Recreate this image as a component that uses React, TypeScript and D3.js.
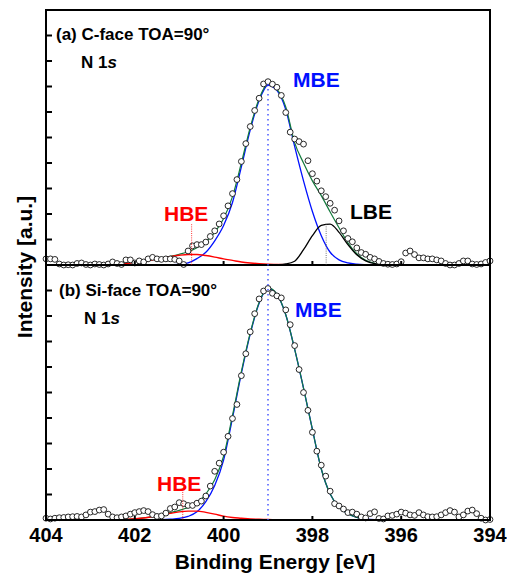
import React from 'react';
import * as d3 from 'd3';

// energy grids: measured points every 0.1 eV, fit curves every 0.2 eV
const dataEnergies = d3.range(0, 101).map(i => +(404 - i * 0.1).toFixed(2));
const fitEnergies = d3.range(0, 51).map(i => +(404 - i * 0.2).toFixed(2));
const xTicks = [404, 402, 400, 398, 396, 394];

// (a) C-face, N 1s intensities (arb. units, 10 = panel top)
const cFaceData = [
  0.24, 0.24, 0.22, 0.04, 0.0, 0.01, 0.0, 0.06, 0.08, 0.02,
  0.0, 0.04, 0.02, 0.0, 0.04, 0.12, 0.06, 0.02, 0.2, 0.2,
  0.08, 0.16, 0.12, 0.24, 0.3, 0.24, 0.22, 0.24, 0.24, 0.22,
  0.16, 0.02, 0.55, 0.75, 0.8, 0.8, 0.9, 1.12, 1.34, 1.61,
  1.93, 2.32, 2.8, 3.35, 4.06, 4.76, 5.43, 6.06, 6.54, 7.1,
  7.19, 7.09, 6.97, 6.65, 5.98, 5.21, 4.94, 4.84, 4.74, 4.09,
  3.58, 3.29, 2.91, 2.68, 2.42, 2.15, 1.73, 1.34, 1.04, 0.91,
  0.67, 0.49, 0.42, 0.3, 0.24, 0.14, 0.06, 0.03, 0.02, 0.04,
  0.13, 0.47, 0.55, 0.41, 0.28, 0.28, 0.24, 0.24, 0.2, 0.16,
  0.06, 0.0, 0.0, 0.06, 0.16, 0.16, 0.04, 0.02, 0.04, 0.1,
  0.16,
];
const cFaceSum = [
  0, 0, 0, 0, 0, 0, 0, 0.02, 0.05, 0.08,
  0.12, 0.16, 0.21, 0.27, 0.34, 0.42, 0.52, 0.68, 0.9, 1.28,
  1.82, 2.68, 4.0, 5.4, 6.52, 7.1, 6.9, 6.2, 4.8, 4.0,
  3.3, 2.72, 2.08, 1.46, 0.87, 0.44, 0.19, 0.07, 0.02, 0,
  0, 0, 0, 0, 0, 0, 0, 0, 0, 0, 0,
];
const cFaceMBE = [
  null, null, null, null, null, null, null, null, null, null,
  0, 0, 0, 0, 0.01, 0.02, 0.08, 0.25, 0.5, 0.95,
  1.55, 2.45, 3.85, 5.3, 6.45, 7.05, 6.85, 6.1, 4.65, 3.3,
  2.1, 1.15, 0.5, 0.2, 0.08, 0.03, 0.01, 0, 0, null,
  null, null, null, null, null, null, null, null, null, null, null,
];
const cFaceHBE = [
  null, null, null, null, null, null, 0, 0, 0.03, 0.06,
  0.1, 0.14, 0.2, 0.27, 0.33, 0.38, 0.41, 0.41, 0.37, 0.31,
  0.24, 0.18, 0.12, 0.08, 0.05, 0.03, 0.02, 0.01, 0, 0,
  0, 0, 0, 0, 0, 0, 0, 0, 0, null,
  null, null, null, null, null, null, null, null, null, null, null,
];
const cFaceLBE = [
  null, null, null, null, null, null, null, null, null, null,
  null, null, null, null, null, null, null, null, null, null,
  null, null, null, 0, 0, 0, 0.01, 0.04, 0.15, 0.6,
  1.15, 1.55, 1.6, 1.28, 0.8, 0.4, 0.16, 0.05, 0.01, null,
  null, null, null, null, null, null, null, null, null, null, null,
];

// (b) Si-face
const siFaceData = [
  0.07, 0.04, 0.07, 0.09, 0.1, 0.12, 0.13, 0.14, 0.12, 0.2,
  0.31, 0.33, 0.39, 0.41, 0.23, 0.12, 0.09, 0.12, 0.16, 0.23,
  0.29, 0.33, 0.37, 0.33, 0.21, 0.14, 0.16, 0.27, 0.45, 0.51,
  0.68, 0.64, 0.57, 0.57, 0.66, 0.74, 0.94, 1.33, 1.91, 2.23,
  2.66, 3.28, 3.98, 4.53, 5.66, 6.52, 7.38, 8.09, 8.67, 8.98,
  9.08, 8.89, 8.79, 8.71, 8.24, 7.66, 6.84, 5.9, 5.0, 4.3,
  3.44, 2.7, 2.15, 1.72, 1.13, 0.64, 0.55, 0.43, 0.29, 0.31,
  0.23, 0.12, 0.08, 0.25, 0.32, 0.06, 0.04, 0.16, 0.18, 0.23,
  0.31, 0.27, 0.2, 0.18, 0.29, 0.2, 0.13, 0.12, 0.13, 0.2,
  0.29, 0.37, 0.31, 0.12, 0.2, 0.35, 0.39, 0.25, 0.07, 0.0,
  0.02,
];
const siFaceSum = [
  0, 0, 0, 0, 0, 0, 0, 0, 0, 0.02,
  0.05, 0.08, 0.13, 0.2, 0.29, 0.38, 0.49, 0.67, 1.02, 1.58,
  2.5, 4.1, 5.82, 7.34, 8.53, 9.1, 8.86, 8.05, 6.7, 5.17,
  3.55, 2.0, 1.02, 0.5, 0.25, 0.1, 0.04, 0.01, 0, 0,
  0, 0, 0, 0, 0, 0, 0, 0, 0, 0, 0,
];
const siFaceMBE = [
  null, null, null, null, null, null, null, null, 0, 0,
  0, 0, 0, 0.01, 0.03, 0.06, 0.14, 0.32, 0.72, 1.35,
  2.35, 4.0, 5.75, 7.3, 8.5, 9.08, 8.85, 8.05, 6.7, 5.17,
  3.55, 2.0, 1.02, 0.5, 0.25, 0.1, 0.04, 0.01, 0, null,
  null, null, null, null, null, null, null, null, null, null, null,
];
const siFaceHBE = [
  null, null, null, null, null, null, null, 0, 0, 0.02,
  0.05, 0.08, 0.13, 0.19, 0.26, 0.32, 0.35, 0.35, 0.3, 0.23,
  0.15, 0.1, 0.07, 0.04, 0.03, 0.02, 0.01, 0, 0, 0,
  0, 0, 0, 0, 0, 0, 0, 0, null, null,
  null, null, null, null, null, null, null, null, null, null, null,
];

// peak markers [eV]
const mbePos = 399.0;
const cFaceHBEPos = 400.72;
const cFaceLBEPos = 397.69;
const siFaceHBEPos = 400.92;

const W = 507;
const H = 578;
const margin = { left: 46, right: 17, top: 10, bottom: 58 };
const panelH = (H - margin.top - margin.bottom) / 2;
const FONT = '"Liberation Sans", Arial, sans-serif';

const x = d3.scaleLinear().domain([404, 394]).range([margin.left, W - margin.right]);

const BLUE = '#0010ff';
const RED = '#ff0000';
const GREEN = '#137a3c';
const TEAL = '#00a08c';

type Series = (number | null)[];

function Panel({ y0, data, sum, mbe, hbe, lbe }: { y0: number; data: number[]; sum: Series; mbe: Series; hbe: Series; lbe?: Series }) {
  const y = d3.scaleLinear().domain([0, 10]).range([y0 + panelH, y0]);
  const fit = (vals: Series) =>
    d3.line<number | null>()
      .defined(v => v !== null)
      .x((_, i) => x(fitEnergies[i]))
      .y(v => y(v as number))
      .curve(d3.curveMonotoneX)(vals) || '';

  return (
    <g>
      <line x1={x(404)} x2={x(394)} y1={y(0)} y2={y(0)} stroke={TEAL} strokeWidth={1.6} />
      <path d={fit(mbe)} fill="none" stroke={BLUE} strokeWidth={1.3} />
      <path d={fit(sum)} fill="none" stroke={GREEN} strokeWidth={1.2} />
      {lbe && <path d={fit(lbe)} fill="none" stroke="#000" strokeWidth={1.3} />}
      <path d={fit(hbe)} fill="none" stroke={RED} strokeWidth={1.4} />
      {data.map((v, i) => (
        <circle key={i} cx={x(dataEnergies[i])} cy={y(v)} r={2.9} fill="#fff" stroke="#111" strokeWidth={0.9} />
      ))}
      <rect x={x(404)} y={y0} width={x(394) - x(404)} height={panelH} fill="none" stroke="#000" strokeWidth={2} />
      {d3.range(1, 10).map(t => (
        <line key={t} x1={x(404)} x2={x(404) + 6} y1={y(t)} y2={y(t)} stroke="#000" strokeWidth={2} />
      ))}
      {xTicks.slice(1, -1).map(t => (
        <line key={t} x1={x(t)} x2={x(t)} y1={y(0)} y2={y(0) - 4} stroke="#000" strokeWidth={2} />
      ))}
    </g>
  );
}

export default function App() {
  const yTop = d3.scaleLinear().domain([0, 10]).range([margin.top + panelH, margin.top]);
  const yBot = d3.scaleLinear().domain([0, 10]).range([margin.top + 2 * panelH, margin.top + panelH]);
  const text = { fontFamily: FONT, fontWeight: 'bold' as const };

  return (
    <div style={{ position: 'absolute', left: 0, top: 0 }}>
      <svg width={W} height={H} style={{ display: 'block', background: '#fff' }}>
        <Panel y0={margin.top} data={cFaceData} sum={cFaceSum} mbe={cFaceMBE} hbe={cFaceHBE} lbe={cFaceLBE} />
        <Panel y0={margin.top + panelH} data={siFaceData} sum={siFaceSum} mbe={siFaceMBE} hbe={siFaceHBE} />

        {/* peak markers */}
        <line x1={x(mbePos)} x2={x(mbePos)} y1={yTop(7.1)} y2={yBot(0)} stroke="#3a4cff" strokeWidth={1.4} strokeDasharray="1.5,3.5" />
        <line x1={x(cFaceHBEPos)} x2={x(cFaceHBEPos)} y1={yTop(1.6)} y2={yTop(0)} stroke={RED} strokeWidth={0.8} strokeDasharray="1,1.2" />
        <line x1={x(cFaceLBEPos)} x2={x(cFaceLBEPos)} y1={yTop(1.6)} y2={yTop(0)} stroke="#555" strokeWidth={0.8} strokeDasharray="1,1.2" />
        <line x1={x(siFaceHBEPos)} x2={x(siFaceHBEPos)} y1={yBot(1.1)} y2={yBot(0)} stroke={RED} strokeWidth={0.8} strokeDasharray="1,1.2" />

        {/* annotations */}
        <g style={text} fontSize={17}>
          <text x={56} y={40}>(a) C-face TOA=90°</text>
          <text x={81} y={67.5}>N 1<tspan fontStyle="italic">s</tspan></text>
          <text x={59} y={296}>(b) Si-face TOA=90°</text>
          <text x={84} y={323.5}>N 1<tspan fontStyle="italic">s</tspan></text>
        </g>
        <g style={text} fontSize={21}>
          <text x={293} y={86.5} fill={BLUE}>MBE</text>
          <text x={350} y={218.5} fill="#000">LBE</text>
          <text x={164} y={221} fill={RED}>HBE</text>
          <text x={295} y={317} fill={BLUE}>MBE</text>
          <text x={157} y={490.5} fill={RED}>HBE</text>
        </g>

        {/* x tick labels */}
        <g style={text} fontSize={20} textAnchor="middle">
          {xTicks.map(t => (
            <text key={t} x={x(t)} y={542}>{t}</text>
          ))}
        </g>
        <text style={text} fontSize={21} textAnchor="middle" x={275} y={569}>Binding Energy [eV]</text>
        <text style={text} fontSize={21} textAnchor="middle" transform={`translate(32,267) rotate(-90)`}>Intensity [a.u.]</text>
      </svg>
    </div>
  );
}
